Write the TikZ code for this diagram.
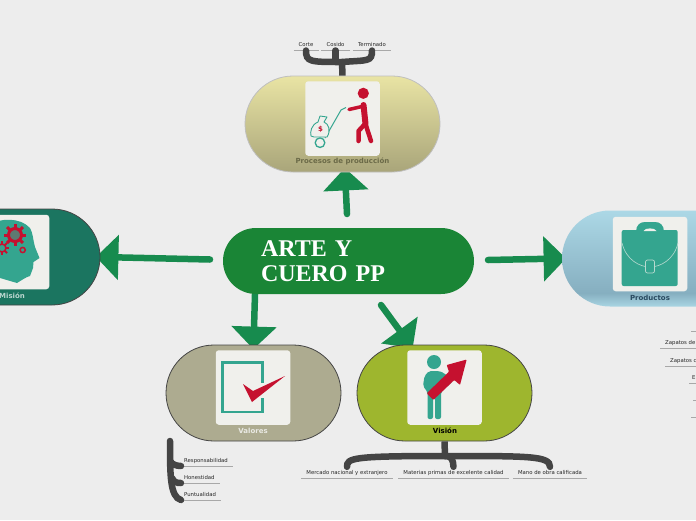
\documentclass[tikz,border=0pt]{standalone}
\usepackage{fontspec}
\setmainfont{DejaVu Sans}
\newfontfamily\titlefont{Liberation Serif}
\usetikzlibrary{arrows.meta,backgrounds}
\definecolor{fondo}{HTML}{EDEDED}
\definecolor{verde}{HTML}{1A8536}
\definecolor{flecha}{HTML}{178B4E}
\definecolor{oscuro}{HTML}{444444}
\definecolor{linea}{HTML}{A8A8A8}
\definecolor{caja}{HTML}{F0F0EC}
\definecolor{rojo}{HTML}{C5112F}
\definecolor{turq}{HTML}{34A58F}
\definecolor{procarriba}{HTML}{E9E4A4}
\definecolor{procabajo}{HTML}{A9A57A}
\definecolor{proctexto}{HTML}{6B6A48}
\definecolor{prodtexto}{HTML}{2A4A60}
\definecolor{misionc}{HTML}{1B7560}
\definecolor{valoresc}{HTML}{ADAB90}
\definecolor{visionc}{HTML}{9EB62E}
\pgfdeclareverticalshading{sombraprod}{100bp}{
  rgb(0bp)=(0.663,0.835,0.89);
  rgb(25bp)=(0.663,0.835,0.89);
  rgb(32bp)=(0.525,0.686,0.753);
  rgb(75bp)=(0.675,0.847,0.902);
  rgb(100bp)=(0.675,0.847,0.902)}
\tikzset{
  pill/.style={draw=oscuro, line width=0.8pt, rounded corners=48pt, minimum height=96pt, inner sep=0pt},
  foto/.style={fill=caja, rounded corners=3pt, minimum width=74.5pt, minimum height=74.5pt, inner sep=0pt},
  etiq/.style={font=\fontsize{7}{8}\selectfont\bfseries, inner sep=0pt},
  enlace/.style={draw=flecha, line width=6.5pt, line cap=round, shorten >=-4.5pt,
    -{Triangle[length=22.5pt,width=44pt]}},
  rama/.style={draw=oscuro, line width=6.5pt, line cap=round},
  hoja/.style={font=\fontsize{5.35}{6.5}\selectfont, text=black!85, inner xsep=5pt, inner ysep=1.5pt,
    text height=4.3pt, text depth=2pt, anchor=south,
    append after command={(\tikzlastnode.south west) edge[draw=linea, line width=0.8pt] (\tikzlastnode.south east)}},
  hojaizq/.style={font=\fontsize{5.35}{6.5}\selectfont, text=black!85, inner xsep=0pt, inner ysep=1.5pt,
    text height=4.3pt, text depth=2pt, anchor=south west,
    append after command={(\tikzlastnode.south west) edge[draw=linea, line width=0.8pt] ([xshift=5pt]\tikzlastnode.south east)}}
}
\begin{document}
\begin{tikzpicture}[x=1pt,y=-1pt]
        \useasboundingbox (0,0) rectangle (696,520);
        \clip (0,0) rectangle (696,520);

        % Center
        \node[fill=verde, rounded corners=33pt, minimum height=66pt, inner xsep=38pt, inner ysep=0pt,
              text width=175pt, align=left, text=white,
              font=\titlefont\fontsize{24}{25}\selectfont\bfseries] (centro) at (348.5,261) {ARTE Y\\CUERO PP};

        % Main ideas
        \node[pill, minimum width=195pt, draw=black!25, top color=procarriba, bottom color=procabajo] (procesos) at (342.5,124) {};
        \node[pill, minimum width=195pt, fill=misionc] (mision) at (2.5,257) {};
        \node[pill, minimum width=195pt, draw=none, shading=sombraprod] (productos) at (659.5,258.5) {};
        \node[pill, minimum width=175pt, fill=valoresc] (valores) at (253.5,393) {};
        \node[pill, minimum width=175pt, fill=visionc] (vision) at (444.5,393) {};

        % Picture boxes
        \node[foto] (fotoprocesos) at (342.5,118.5) {};
        \node[foto] (fotomision) at (12,252) {};
        \node[foto] (fotoproductos) at (650,254) {};
        \node[foto] (fotovalores) at (253,387.5) {};
        \node[foto] (fotovision) at (444.5,387.5) {};

        % Titles
        \node[etiq, text=proctexto] (txtprocesos) at (342.5,161.5) {Procesos de producción};
        \node[etiq, text=misionc!30!white] (txtmision) at (12,295.5) {Misión};
        \node[etiq, text=prodtexto] (txtproductos) at (650,297.5) {Productos};
        \node[etiq, text=caja!90!valoresc] (txtvalores) at (253,430.5) {Valores};
        \node[etiq, text=black] (txtvision) at (445,430.5) {Visión};

        % Leaves
        \node[hoja] (corte) at (306,50.5) {Corte};
        \node[hoja] (cosido) at (335.5,50.5) {Cosido};
        \node[hoja] (terminado) at (372,50.5) {Terminado};
        \node[hojaizq] (responsabilidad) at (184,466) {Responsabilidad};
        \node[hojaizq] (honestidad) at (184,483) {Honestidad};
        \node[hojaizq] (puntualidad) at (184,500) {Puntualidad};
        \node[hoja] (mercado) at (347,478.5) {Mercado nacional y extranjero};
        \node[hoja] (materias) at (453.5,478.5) {Materias primas de excelente calidad};
        \node[hoja] (mano) at (550,478.5) {Mano de obra calificada};
        \node[hoja, anchor=south west, minimum width=20pt] (prod1) at (691,331.5) {};
        \node[hoja, anchor=south west, minimum width=40pt] (prod2) at (660,348.5) {Zapatos de};
        \node[hoja, anchor=south west, minimum width=36pt] (prod3) at (665,366) {Zapatos c};
        \node[hoja, anchor=south west, inner xsep=3pt] (prod4) at (689,383) {E};
        \node[hoja, anchor=south west, minimum width=20pt] (prod5) at (693,400) {};
        \node[hoja, anchor=south west, minimum width=20pt] (prod6) at (691,417) {};

        % Connectors to the main ideas
        \begin{scope}[on background layer]
        \fill[fondo] (0,0) rectangle (696,520);
        \coordinate (salidaP) at (347,214);
        \coordinate (salidaM) at (210,259.5);
        \coordinate (salidaR) at (488,260);
        \coordinate (salidaV) at (255,294);
        \coordinate (salidaW) at (381,305);
        \draw[enlace] (salidaP) -- ([xshift=2.5pt]procesos.south);
        \draw[enlace] (salidaM) -- (mision.east);
        \draw[enlace] (salidaR) -- (productos.west);
        \draw[enlace] (centro.south -| salidaV) -- (valores.north);
        \draw[enlace] (salidaW) -- ([xshift=-34.5pt]vision.north);
        \end{scope}

        % Branches of Procesos
        \coordinate (codoP) at (342,62);
        \draw[rama, line cap=butt] (procesos.north) -- (codoP);
        \draw[rama] (corte.south) .. controls (306,62) and (310,62) .. (codoP);
        \draw[rama] (cosido.south) -- (335.5,62);
        \draw[rama] (terminado.south) .. controls (372,62) and (368,60) .. (codoP);

        % Branches of Valores
        \coordinate (troncoV) at (170,441);
        \coordinate (codoV) at (171,462);
        \draw[rama] (troncoV) .. controls (170,475) and (170,497) .. ([xshift=-3pt]puntualidad.south west);
        \draw[rama] (codoV) .. controls (172,464) and (176,466) .. ([xshift=-3pt]responsabilidad.south west);
        \draw[rama] (172,478) .. controls (174,482) and (176,483) .. ([xshift=-3pt]honestidad.south west);

        % Branches of Vision
        \coordinate (codoW) at (445,456);
        \draw[rama, line cap=butt] (vision.south) -- (codoW);
        \draw[rama] ([yshift=2pt]mercado.north) .. controls (347,458) and (352,456) .. (codoW);
        \draw[rama] ([yshift=2pt]materias.north) .. controls (453,460) and (452,456) .. (codoW);
        \draw[rama] ([yshift=2pt]mano.north) .. controls (550,456) and (530,456) .. (codoW);

        % Icon Procesos
        \fill[rojo] (363.3,93.3) circle (5.6);
        \draw[rojo, line width=3.5pt, line cap=round, line join=round] (349,109.5) -- (362,106.5);
        \draw[rojo, line width=6pt, line cap=round, line join=round] (363.5,105) -- (365.5,124);
        \draw[rojo, line width=4.5pt, line cap=round, line join=round] (365.5,124) -- (371,141);
        \draw[rojo, line width=4.5pt, line cap=round, line join=round] (365,124) -- (358.5,131) -- (358.5,141);
        \draw[turq, line width=1pt] (346,107.5) -- (341,110) -- (325,138);
        \draw[turq, line width=1.3pt] (320,142.7) circle (4.8);
        \draw[turq, line width=0.9pt, fill=caja, line join=round] (318,122) .. controls (311,125) and (310,132) .. (311,136) -- (314,137) -- (327,137) .. controls (331,131) and (329,124) .. (324,122) -- (327,117) -- (320,116) -- cycle;
        \node[font=\fontsize{7}{8}\selectfont\bfseries, text=rojo, inner sep=0pt] (dolar) at (320.5,129) {\$};

        % Icon Mision
        \fill[turq] (-12,280) -- (-12,225) .. controls (0,218) and (20,217) .. (30,228) .. controls (33,233) and (33,240) .. (35,247) -- (39.5,258) -- (33.5,262) -- (33,268) -- (30,276) .. controls (26,277) and (22,280) .. (17,283) -- (0,278) -- cycle;
        \foreach \a in {0,45,...,315} {
          \draw[rojo, line width=3pt] (15,235) ++(\a:6) -- ++(\a:5.3);
          \draw[rojo, line width=2pt] (2,248) ++(\a:4) -- ++(\a:3.2);
        }
        \draw[rojo, line width=3pt, fill=turq!70!rojo] (15,235) circle (6.5);
        \draw[rojo, line width=1.6pt, fill=turq] (2,248) circle (4);
        \draw[rojo, line width=1.5pt, fill=turq] (22.7,250) circle (2.6);

        % Icon Productos
        \fill[turq] (636,232) .. controls (636,225) and (640,222) .. (645,222) -- (655,222) .. controls (660,222) and (664,225) .. (664,232) -- cycle;
        \fill[turq, rounded corners=2pt] (621.7,230) rectangle (677.7,286);
        \fill[caja] (643.5,231) .. controls (645,227.5) and (655,227.5) .. (656.5,231) -- cycle;
        \draw[caja!70!turq, line width=0.6pt] (622,243) .. controls (626,260) and (640,267) .. (650,267) .. controls (660,267) and (674,260) .. (678,243);
        \draw[caja!70!turq, line width=0.7pt, fill=turq, rounded corners=2pt] (645.5,260) rectangle (654.5,273);

        % Icon Valores
        \draw[turq, line width=2.6pt] (262.5,382.5) -- (262.5,362.3) -- (222.5,362.3) -- (222.5,412) -- (262.5,412) -- (262.5,398);
        \fill[rojo] (243,384) -- (253,391) -- (285,376) -- (252,402) -- cycle;

        % Icon Vision
        \fill[turq] (434,362) circle (7);
        \fill[turq, rounded corners=2pt] (429,371) -- (439,371) -- (444,373) -- (453,381) -- (441,392) -- (441,419) -- (435,419) -- (435,398) -- (433,398) -- (433,419) -- (427.5,419) -- (427.5,392) -- (423,386) -- (424.5,376) -- cycle;
        \fill[rojo, rounded corners=0.8pt] (426.7,393.3) -- (449,371.7) -- (446.7,365) -- (466.7,359.5) -- (460,385) -- (454.3,380) -- (433.3,400) -- cycle;
\end{tikzpicture}
\end{document}
